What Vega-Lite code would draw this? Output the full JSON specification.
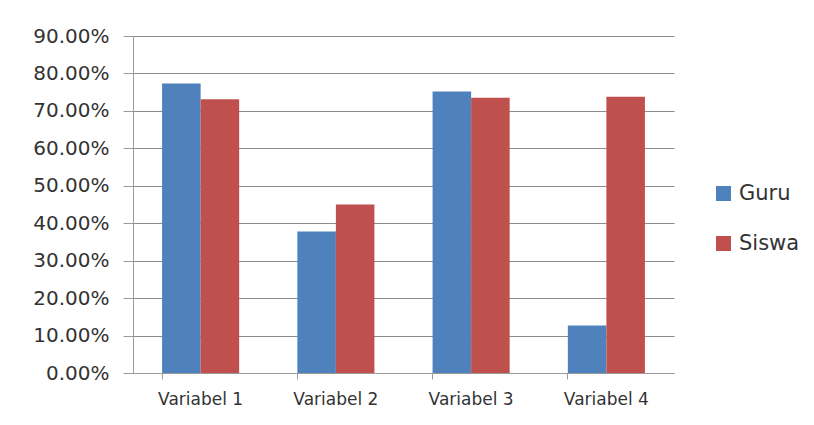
{
  "$schema": "https://vega.github.io/schema/vega-lite/v6.json",
  "autosize": {"type": "none"},
  "padding": {"left": 133, "top": 36, "right": 140, "bottom": 52},
  "width": 541,
  "height": 337,
  "background": "white",
  "data": {
    "values": [
      {"variable": "Variabel 1", "group": "Guru", "value": 0.773},
      {"variable": "Variabel 1", "group": "Siswa", "value": 0.731},
      {"variable": "Variabel 2", "group": "Guru", "value": 0.378},
      {"variable": "Variabel 2", "group": "Siswa", "value": 0.450},
      {"variable": "Variabel 3", "group": "Guru", "value": 0.752},
      {"variable": "Variabel 3", "group": "Siswa", "value": 0.735},
      {"variable": "Variabel 4", "group": "Guru", "value": 0.127},
      {"variable": "Variabel 4", "group": "Siswa", "value": 0.738}
    ]
  },
  "mark": {"type": "bar"},
  "encoding": {
    "x": {
      "field": "variable", "type": "nominal", "title": null,
      "scale": {"paddingInner": 0.43, "paddingOuter": 0.215},
      "axis": {
        "labelAngle": 0, "bandPosition": 0, "tickSize": 6, "tickColor": "#9a9a9a",
        "domainColor": "#9a9a9a", "labelFont": "DejaVu Sans", "labelFontSize": 17,
        "labelColor": "#333333", "labelPadding": 12
      }
    },
    "xOffset": {"field": "group", "type": "nominal"},
    "y": {
      "field": "value", "type": "quantitative", "title": null,
      "scale": {"domain": [0, 0.9], "nice": false},
      "axis": {
        "values": [0, 0.1, 0.2, 0.3, 0.4, 0.5, 0.6, 0.7, 0.8, 0.9],
        "format": ".2%", "tickSize": 10, "tickColor": "#9a9a9a",
        "domainColor": "#9a9a9a", "gridColor": "#8c8c8c", "gridOpacity": 1,
        "labelFont": "DejaVu Sans", "labelFontSize": 20, "labelColor": "#333333",
        "labelPadding": 14
      }
    },
    "color": {
      "field": "group", "type": "nominal", "title": null,
      "scale": {"domain": ["Guru", "Siswa"], "range": ["#4F81BD", "#C0504D"]},
      "legend": {
        "orient": "none", "legendX": 580, "legendY": 147,
        "symbolType": "square", "symbolSize": 225, "symbolStrokeWidth": 0,
        "labelFont": "DejaVu Sans", "labelFontSize": 21, "labelColor": "#333333",
        "rowPadding": 28, "labelOffset": 5
      }
    }
  },
  "config": {"view": {"stroke": null}}
}
